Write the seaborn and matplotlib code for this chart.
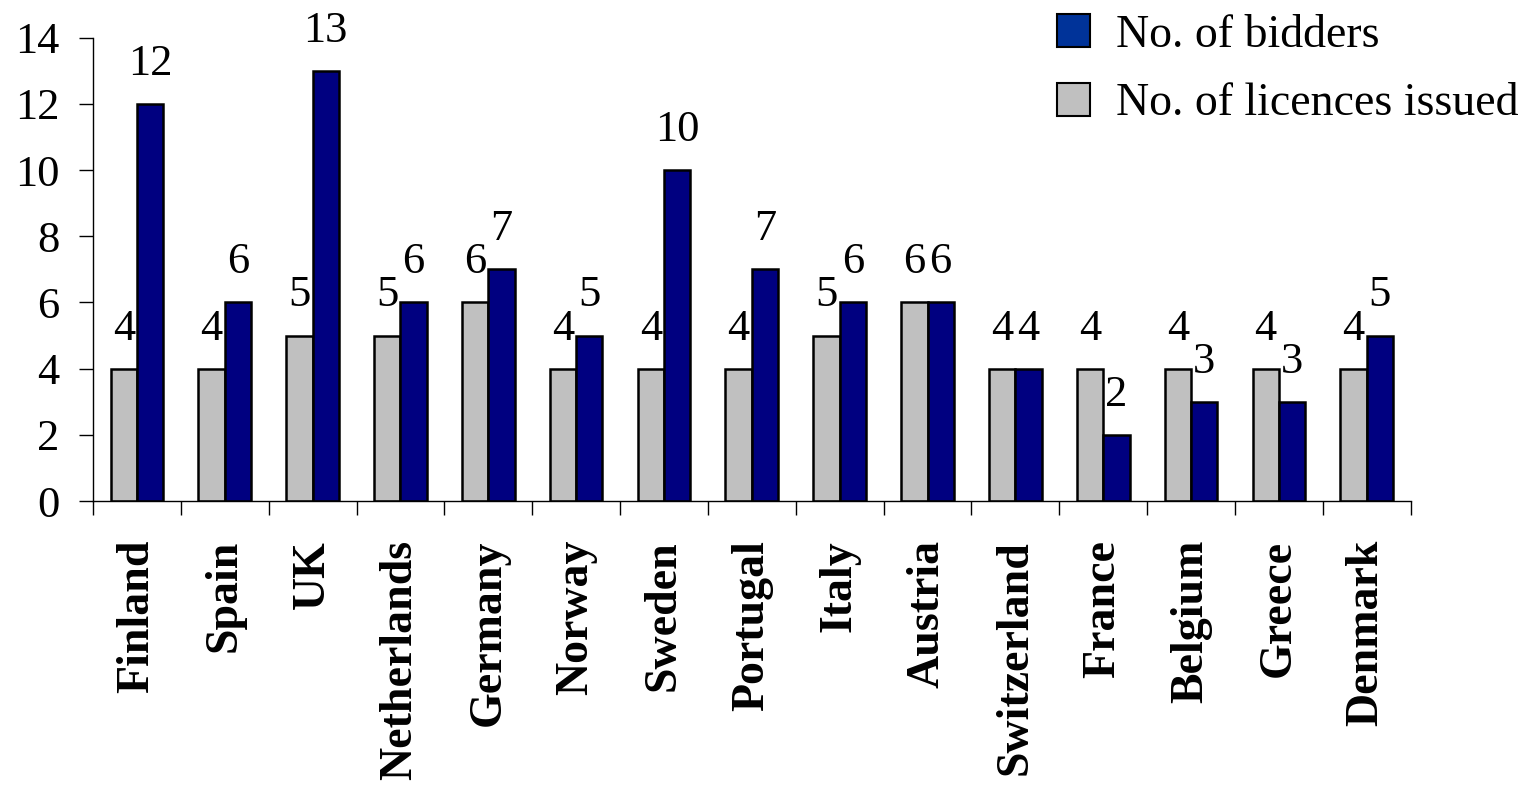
import matplotlib
matplotlib.use("Agg")
import matplotlib.pyplot as plt
from matplotlib.patches import Patch
from matplotlib.ticker import FixedLocator
import numpy as np
import pandas as pd
import seaborn as sns

countries = ["Finland", "Spain", "UK", "Netherlands", "Germany", "Norway", "Sweden",
             "Portugal", "Italy", "Austria", "Switzerland", "France", "Belgium",
             "Greece", "Denmark"]
licences = [4, 4, 5, 5, 6, 4, 4, 4, 5, 6, 4, 4, 4, 4, 4]
bidders = [12, 6, 13, 6, 7, 5, 10, 7, 6, 6, 4, 2, 3, 3, 5]
yticks = [0, 2, 4, 6, 8, 10, 12, 14]

LIC = "No. of licences issued"
BID = "No. of bidders"

df = pd.DataFrame({
    "country": countries * 2,
    "value": licences + bidders,
    "series": [LIC] * len(countries) + [BID] * len(countries),
})

sns.set_style("white")
plt.rcParams["font.family"] = ["Liberation Serif", "DejaVu Serif"]
plt.rcParams.update({
    "text.color": "black",
    "axes.labelcolor": "black",
    "xtick.color": "black",
    "ytick.color": "black",
})

fig = plt.figure(figsize=(15.25, 7.92), dpi=100)
ax = fig.add_axes([0.061, 0.3674, 0.864, 0.585])

sns.barplot(data=df, x="country", y="value", hue="series", hue_order=[LIC, BID],
            palette={LIC: "#C0C0C0", BID: "#000080"}, width=0.6,
            edgecolor="black", linewidth=1.8, saturation=1, legend=False, ax=ax)

for cont in ax.containers:
    ax.bar_label(cont, fmt="%d", padding=14.5, fontsize=32, color="black")

ax.set_ylim(0, 14)
ax.set_xlim(-0.5, len(countries) - 0.5)
ax.set_yticks(yticks)
ax.tick_params(axis="y", direction="out", length=10, width=1, labelsize=32, pad=14,
               left=True, color="black", labelcolor="black")
ax.set_xlabel("")
ax.set_ylabel("")

# category labels on major ticks, boundary tick marks on minor ticks
ax.set_xticks(range(len(countries)))
ax.set_xticklabels(countries, rotation=90, fontsize=33, fontweight="bold", color="black")
ax.tick_params(axis="x", which="major", length=0, pad=28)
ax.xaxis.set_minor_locator(FixedLocator(np.arange(-0.5, len(countries), 1.0)))
ax.tick_params(axis="x", which="minor", direction="out", length=10, width=1,
               bottom=True, color="black")

for side in ("top", "right"):
    ax.spines[side].set_visible(False)
for side in ("left", "bottom"):
    ax.spines[side].set_color("black")
    ax.spines[side].set_linewidth(1)

handles = [Patch(facecolor="#003399", edgecolor="black", linewidth=1.5, label=BID),
           Patch(facecolor="#C0C0C0", edgecolor="black", linewidth=1.5, label=LIC)]
leg = fig.legend(handles=handles, loc="upper right", bbox_to_anchor=(1.0105, 1.011),
                 frameon=False, fontsize=33, handlelength=0.72, handleheight=0.72,
                 handletextpad=0.55, labelspacing=0.57, borderaxespad=0.1)
for t in leg.get_texts():
    t.set_color("black")

fig.savefig("out.png", dpi=100)
